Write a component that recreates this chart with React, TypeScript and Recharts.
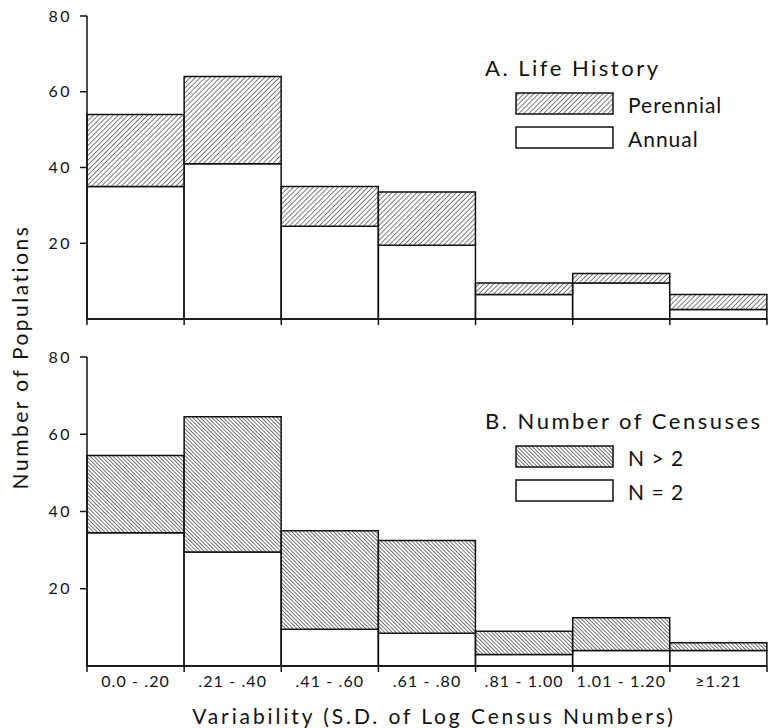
import { BarChart, Bar, XAxis, YAxis, Legend } from "recharts";

// histogram bins (S.D. of log census numbers)
const bins = [
  "0.0 - .20",
  ".21 - .40",
  ".41 - .60",
  ".61 - .80",
  ".81 - 1.00",
  "1.01 - 1.20",
  "≥1.21",
];

// A. Life history
const annual = [35, 41, 24.5, 19.5, 6.5, 9.5, 2.5];
const perennial = [19, 23, 10.5, 14, 3, 2.5, 4];

// B. Number of censuses
const censusTwo = [34.5, 29.5, 9.5, 8.5, 3, 4, 4];
const censusMore = [20, 35, 25.5, 24, 6, 8.5, 2];

const yTicks = [20, 40, 60, 80];

const dataA = bins.map((bin, i) => ({ bin, annual: annual[i], perennial: perennial[i] }));
const dataB = bins.map((bin, i) => ({ bin, two: censusTwo[i], more: censusMore[i] }));

const FONT = "Lato, 'DejaVu Sans', sans-serif";
const INK = "#111";
const W = 771;
const MARGIN_L = 40;
const Y_AXIS_W = 47;
const MARGIN_R = 4;
const PLOT_W = W - MARGIN_L - Y_AXIS_W - MARGIN_R;
const BAND = PLOT_W / bins.length;

function BinTick(props: any) {
  const { x, y, payload, index, showLabel } = props;
  const left = x - BAND / 2;
  const right = x + BAND / 2;
  return (
    <g>
      <line x1={left} y1={y} x2={left} y2={y + 6} stroke={INK} strokeWidth={1.5} />
      {index === bins.length - 1 && (
        <line x1={right} y1={y} x2={right} y2={y + 6} stroke={INK} strokeWidth={1.5} />
      )}
      {showLabel && (
        <text
          x={x}
          y={y + 17}
          textAnchor="middle"
          dominantBaseline="middle"
          fontFamily={FONT}
          fontSize={16}
          letterSpacing={1.1}
          fill={INK}
        >
          {payload.value}
        </text>
      )}
    </g>
  );
}

function legendContent(title: string, items: { label: string; fill: string }[]) {
  return () => (
    <div style={{ fontFamily: FONT, color: INK }}>
      <div style={{ fontSize: 22, letterSpacing: 2.5, lineHeight: "24px", marginBottom: 7, whiteSpace: "nowrap" }}>
        {title}
      </div>
      {items.map((it) => (
        <div key={it.label} style={{ display: "flex", alignItems: "center", marginLeft: 30, height: 34 }}>
          <svg width={100} height={24} style={{ display: "block" }}>
            <rect x={1} y={1} width={97} height={21} fill={it.fill} stroke={INK} strokeWidth={1.5} />
          </svg>
          <span style={{ fontSize: 21, letterSpacing: 1, marginLeft: 13 }}>{it.label}</span>
        </div>
      ))}
    </div>
  );
}

const axisStroke = { stroke: INK, strokeWidth: 1.5 };
const yTickStyle = { fill: INK, fontSize: 16, fontFamily: FONT, letterSpacing: 2.5 };

export default function App() {
  return (
    <div style={{ position: "absolute", left: 0, top: 0, width: W, height: 728, background: "#fff" }}>
      <div style={{ position: "absolute", left: 0, top: 0 }}>
        <BarChart
          width={W}
          height={340}
          data={dataA}
          margin={{ top: 16, right: MARGIN_R, bottom: 0, left: MARGIN_L }}
          barCategoryGap={0}
        >
          <defs>
            <pattern id="hatchA" patternUnits="userSpaceOnUse" width={3.5} height={3.5} patternTransform="rotate(45)">
              <rect width={3.5} height={3.5} fill="#fff" />
              <line x1={0} y1={0} x2={0} y2={3.5} stroke={INK} strokeWidth={1.1} />
            </pattern>
            <pattern id="hatchB" patternUnits="userSpaceOnUse" width={2.7} height={2.7} patternTransform="rotate(-45)">
              <rect width={2.7} height={2.7} fill="#fff" />
              <line x1={0} y1={0} x2={0} y2={2.7} stroke={INK} strokeWidth={1.15} />
            </pattern>
          </defs>
          <XAxis
            dataKey="bin"
            height={21}
            interval={0}
            tickLine={false}
            tickSize={0}
            tickMargin={0}
            axisLine={axisStroke}
            tick={(p: any) => <BinTick {...p} showLabel={false} />}
          />
          <YAxis
            width={Y_AXIS_W}
            domain={[0, 80]}
            ticks={yTicks}
            tickSize={7}
            tickMargin={8}
            axisLine={axisStroke}
            tickLine={axisStroke}
            tick={yTickStyle}
          />
          <Legend
            layout="horizontal"
            verticalAlign="middle"
            align="center"
            wrapperStyle={{ top: 56, left: 485, width: 270 }}
            content={legendContent("A. Life History", [
              { label: "Perennial", fill: "url(#hatchA)" },
              { label: "Annual", fill: "#fff" },
            ])}
          />
          <Bar dataKey="annual" name="Annual" stackId="a" fill="#fff" stroke={INK} strokeWidth={1.5} isAnimationActive={false} />
          <Bar dataKey="perennial" name="Perennial" stackId="a" fill="url(#hatchA)" stroke={INK} strokeWidth={1.5} isAnimationActive={false} />
        </BarChart>
      </div>

      <div style={{ position: "absolute", left: 0, top: 340 }}>
        <BarChart
          width={W}
          height={388}
          data={dataB}
          margin={{ top: 17, right: MARGIN_R, bottom: 0, left: MARGIN_L }}
          barCategoryGap={0}
        >
          <XAxis
            dataKey="bin"
            height={62}
            interval={0}
            tickLine={false}
            tickSize={0}
            tickMargin={0}
            axisLine={axisStroke}
            tick={(p: any) => <BinTick {...p} showLabel />}
          />
          <YAxis
            width={Y_AXIS_W}
            domain={[0, 80]}
            ticks={yTicks}
            tickSize={7}
            tickMargin={8}
            axisLine={axisStroke}
            tickLine={axisStroke}
            tick={yTickStyle}
          />
          <Legend
            layout="horizontal"
            verticalAlign="middle"
            align="center"
            wrapperStyle={{ top: 69, left: 485, width: 282 }}
            content={legendContent("B. Number of Censuses", [
              { label: "N > 2", fill: "url(#hatchB)" },
              { label: "N = 2", fill: "#fff" },
            ])}
          />
          <Bar dataKey="two" name="N = 2" stackId="b" fill="#fff" stroke={INK} strokeWidth={1.5} isAnimationActive={false} />
          <Bar dataKey="more" name="N > 2" stackId="b" fill="url(#hatchB)" stroke={INK} strokeWidth={1.5} isAnimationActive={false} />
        </BarChart>
      </div>

      <div
        style={{
          position: "absolute",
          left: 19,
          top: 357,
          transform: "translate(-50%, -50%) rotate(-90deg)",
          whiteSpace: "nowrap",
          fontFamily: FONT,
          fontSize: 21,
          letterSpacing: 2.5,
          color: INK,
        }}
      >
        Number of Populations
      </div>
      <div
        style={{
          position: "absolute",
          left: 434,
          top: 715,
          transform: "translate(-50%, -50%)",
          whiteSpace: "nowrap",
          fontFamily: FONT,
          fontSize: 21,
          letterSpacing: 2.9,
          color: INK,
        }}
      >
        Variability (S.D. of Log Census Numbers)
      </div>
    </div>
  );
}
